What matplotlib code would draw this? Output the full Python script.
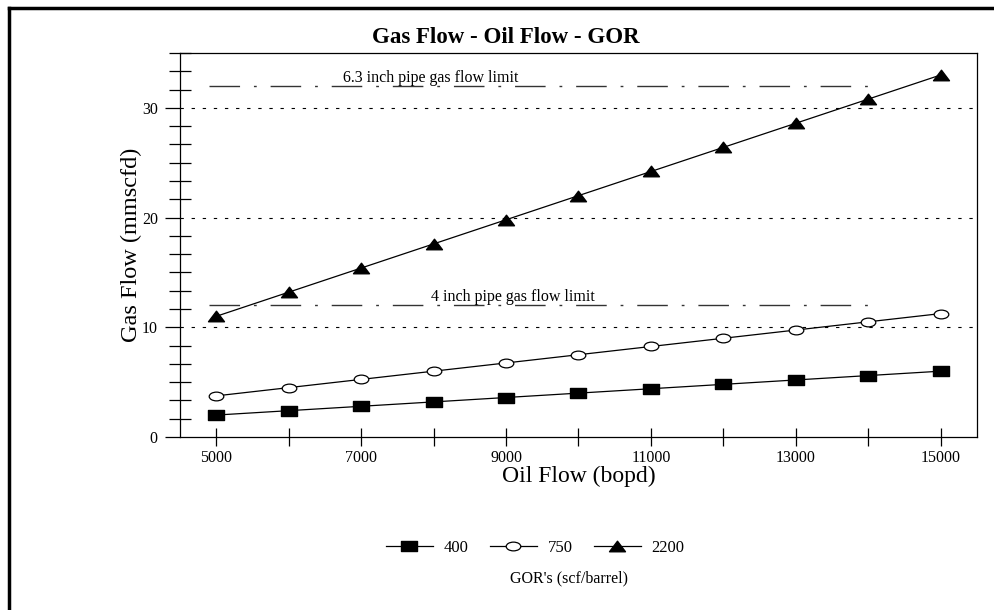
import matplotlib.pyplot as plt
from matplotlib.path import Path
from matplotlib.transforms import Affine2D
from matplotlib.ticker import MultipleLocator, FuncFormatter
from matplotlib.lines import Line2D

plt.rcParams['font.family'] = ['Liberation Serif', 'DejaVu Serif']

# data
oil_flow = [5000, 6000, 7000, 8000, 9000, 10000, 11000, 12000, 13000, 14000, 15000]
gas_400 = [2.0, 2.4, 2.8, 3.2, 3.6, 4.0, 4.4, 4.8, 5.2, 5.6, 6.0]
gas_750 = [3.75, 4.5, 5.25, 6.0, 6.75, 7.5, 8.25, 9.0, 9.75, 10.5, 11.25]
gas_2200 = [11.0, 13.2, 15.4, 17.6, 19.8, 22.0, 24.2, 26.4, 28.6, 30.8, 33.0]
limit_x = [4900, 14150]
limit_4in = 12
limit_63in = 32
grid_levels = [10, 20, 30]

# markers are squashed vertically in the original
ellipse = Path.unit_circle().transformed(Affine2D().scale(1.0, 0.6))
flat_square = Path([(-1, -0.66), (1, -0.66), (1, 0.66), (-1, 0.66), (-1, -0.66)],
                   [Path.MOVETO, Path.LINETO, Path.LINETO, Path.LINETO, Path.CLOSEPOLY])
flat_triangle = Path([(-1, -0.66), (1, -0.66), (0, 0.66), (-1, -0.66)],
                     [Path.MOVETO, Path.LINETO, Path.LINETO, Path.CLOSEPOLY])

styles = [
    dict(marker=flat_square, ms=11, mfc='black', mec='black'),
    dict(marker=ellipse, ms=10.5, mfc='white', mec='black', mew=0.9),
    dict(marker=flat_triangle, ms=11.5, mfc='black', mec='black'),
]

fig = plt.figure(figsize=(9.95, 6.10), dpi=100)
ax = fig.add_axes([0.1809, 0.2836, 0.8010, 0.6295])

for g in grid_levels:
    ax.axhline(g, color='black', lw=0.8, ls=(0, (3, 7)), zorder=1)

dd = (0, (22, 10, 2, 10))
ax.plot(limit_x, [limit_63in] * 2, color='#333333', lw=1.0, ls=dd, zorder=1)
ax.plot(limit_x, [limit_4in] * 2, color='#333333', lw=1.0, ls=dd, zorder=1)
ax.text(6750, limit_63in, '6.3 inch pipe gas flow limit', fontsize=11.5,
        ha='left', va='bottom')
ax.text(7960, limit_4in, '4 inch pipe gas flow limit', fontsize=11.5,
        ha='left', va='bottom')

for ys, lab, st in zip([gas_400, gas_750, gas_2200], ['400', '750', '2200'], styles):
    ax.plot(oil_flow, ys, color='black', lw=0.9, label=lab, zorder=3, **st)

ax.set_xlim(4500, 15500)
ax.set_ylim(0, 35)

ax.xaxis.set_major_locator(MultipleLocator(1000))
ax.xaxis.set_major_formatter(FuncFormatter(
    lambda v, p: f'{int(v)}' if int(round(v)) % 2000 == 1000 else ''))
ax.yaxis.set_major_locator(MultipleLocator(10))
ax.yaxis.set_minor_locator(MultipleLocator(10 / 6))
ax.tick_params(axis='x', direction='inout', length=13, width=0.9, labelsize=11.5, pad=3)
ax.tick_params(axis='y', which='major', direction='out', length=11, width=0.9,
               labelsize=11.5, pad=5)
ax.tick_params(axis='y', which='minor', direction='inout', length=16, width=0.9)

for s in ax.spines.values():
    s.set_linewidth(0.9)

ax.set_xlabel('Oil Flow (bopd)', fontsize=17, labelpad=0)
ax.set_ylabel('Gas Flow (mmscfd)', fontsize=17.5, labelpad=0)
fig.text(0.508, 0.938, 'Gas Flow - Oil Flow - GOR', fontsize=16.5,
         fontweight='bold', ha='center', va='center')

handles = [Line2D([], [], color='black', lw=0.9, **st) for st in styles]
fig.legend(handles, ['400', '750', '2200'], loc='center', ncol=3,
           bbox_to_anchor=(0.538, 0.102), frameon=False, fontsize=12,
           handlelength=2.8, columnspacing=1.3, handletextpad=0.65)
fig.text(0.572, 0.052, "GOR's (scf/barrel)", fontsize=11.5, ha='center', va='center')

# outer frame (left and top edges)
fig.add_artist(Line2D([0.0095, 0.0095], [0, 0.987], color='black', lw=2.5,
                      transform=fig.transFigure))
fig.add_artist(Line2D([0.0095, 1.0], [0.987, 0.987], color='black', lw=2.5,
                      transform=fig.transFigure))

fig.savefig('out.png', dpi=100)
